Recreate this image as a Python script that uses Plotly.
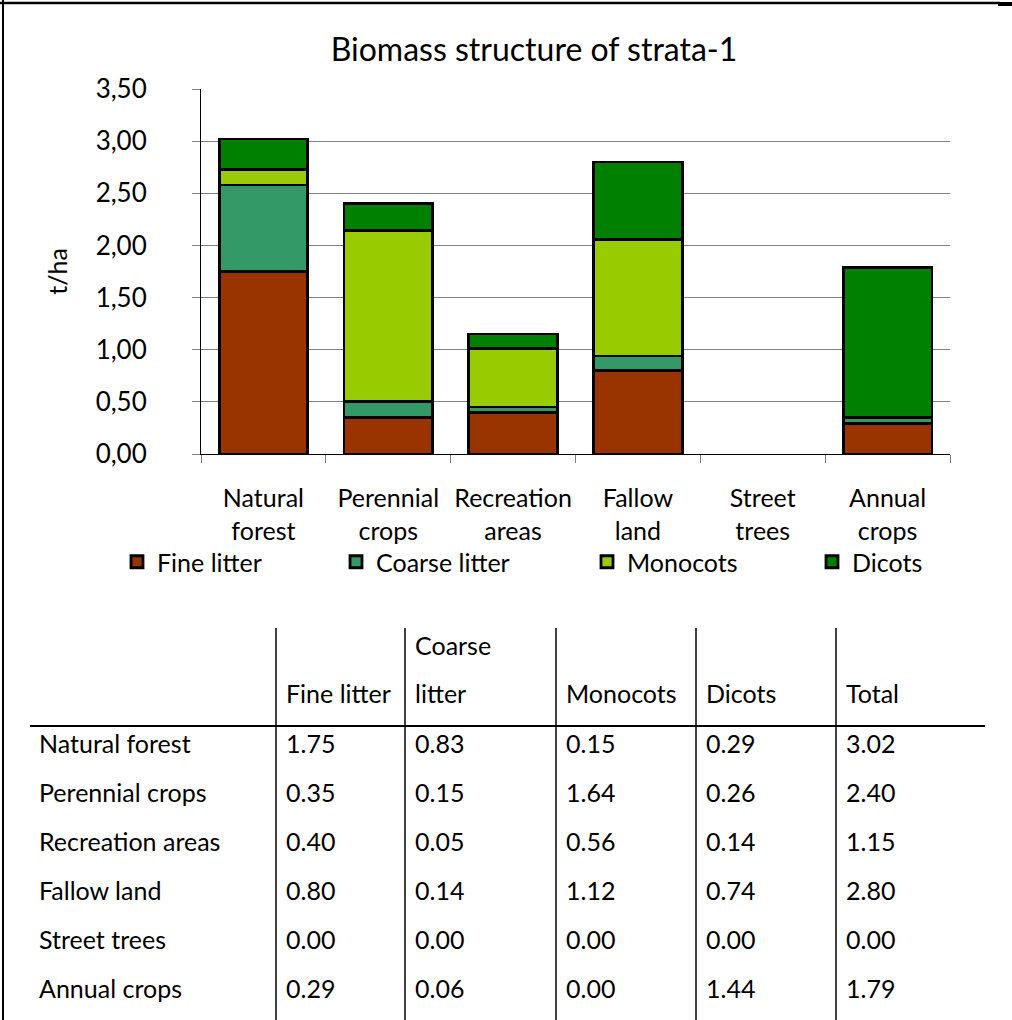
import plotly.graph_objects as go

# ---------------- data ----------------
categories = ["Natural forest", "Perennial crops", "Recreation areas",
              "Fallow land", "Street trees", "Annual crops"]
category_ticktext = ["Natural<br>forest", "Perennial<br>crops", "Recreation<br>areas",
                     "Fallow<br>land", "Street<br>trees", "Annual<br>crops"]
fine_litter = [1.75, 0.35, 0.40, 0.80, 0.00, 0.29]
coarse_litter = [0.83, 0.15, 0.05, 0.14, 0.00, 0.06]
monocots = [0.15, 1.64, 0.56, 1.12, 0.00, 0.00]
dicots = [0.29, 0.26, 0.14, 0.74, 0.00, 1.44]
totals = [3.02, 2.40, 1.15, 2.80, 0.00, 1.79]

series_names = ["Fine litter", "Coarse litter", "Monocots", "Dicots"]
series_values = [fine_litter, coarse_litter, monocots, dicots]
series_colors = ["#993300", "#339966", "#99CC00", "#008000"]
table_headers = [["Fine litter"], ["Coarse", "litter"], ["Monocots"], ["Dicots"], ["Total"]]

# ---------------- layout constants ----------------
W, H = 1012, 1020
FONT = "Lato"
def px(x):
    return x / W
def py(y):
    return 1 - y / H

fig = go.Figure()

legend_ids = ["legend", "legend2", "legend3", "legend4"]
legend_x = [117, 336, 587, 812]
for name, vals, col, lg in zip(series_names, series_values, series_colors, legend_ids):
    fig.add_trace(go.Bar(
        x=categories, y=vals, name=name,
        marker=dict(color=col,
                    line=dict(color="black", width=[2.8 if v > 0 else 0 for v in vals])),
        legend=lg, showlegend=True,
    ))

layout_legends = {}
for lg, lx in zip(legend_ids, legend_x):
    layout_legends[lg] = dict(
        x=px(lx), xanchor="left", y=py(562), yanchor="middle",
        orientation="h", bgcolor="rgba(0,0,0,0)",
        font=dict(family=FONT, size=25, color="black"),
        itemwidth=30, tracegroupgap=0, visible=True,
    )

shapes = []
# outer frame pieces
shapes.append(dict(type="line", xref="paper", yref="paper",
                   x0=px(3), x1=px(3), y0=py(0), y1=py(H), line=dict(color="black", width=2)))
shapes.append(dict(type="line", xref="paper", yref="paper",
                   x0=px(0), x1=px(1000), y0=py(3), y1=py(3), line=dict(color="black", width=2.5)))
shapes.append(dict(type="line", xref="paper", yref="paper",
                   x0=px(998), x1=px(1012), y0=py(4), y1=py(4), line=dict(color="black", width=4)))
# table lines
shapes.append(dict(type="line", xref="paper", yref="paper",
                   x0=px(30), x1=px(985), y0=py(726), y1=py(726), line=dict(color="black", width=2)))
col_lines = [276, 405, 556, 696, 836]
for cx in col_lines:
    shapes.append(dict(type="line", xref="paper", yref="paper",
                       x0=px(cx), x1=px(cx), y0=py(628), y1=py(H), line=dict(color="black", width=1.5)))

annotations = []
col_text_x = [c + 8 for c in col_lines]
TFONT = 25
header_line_y = [693, 645]  # bottom line first, line above
for hx, hlines in zip(col_text_x, table_headers):
    for k, htxt in enumerate(reversed(hlines)):
        annotations.append(dict(xref="paper", yref="paper", x=px(hx), y=py(header_line_y[k]),
                                xanchor="left", yanchor="middle", text=htxt, showarrow=False,
                                font=dict(family=FONT, size=TFONT, color="black")))
row_y = [743, 792, 841, 890, 939, 988]
for i, cat in enumerate(categories):
    annotations.append(dict(xref="paper", yref="paper", x=px(37), y=py(row_y[i]),
                            xanchor="left", yanchor="middle", text=cat, showarrow=False,
                            font=dict(family=FONT, size=TFONT, color="black")))
    row_vals = [fine_litter[i], coarse_litter[i], monocots[i], dicots[i], totals[i]]
    for hx, v in zip(col_text_x, row_vals):
        annotations.append(dict(xref="paper", yref="paper", x=px(hx), y=py(row_y[i]),
                                xanchor="left", yanchor="middle", text=f"{v:.2f}", showarrow=False,
                                font=dict(family=FONT, size=TFONT, color="black")))

fig.update_layout(
    width=W, height=H,
    margin=dict(l=0, r=0, t=0, b=0, autoexpand=False),
    paper_bgcolor="white", plot_bgcolor="white",
    separators=",.",
    showlegend=True,
    barmode="stack", bargap=0.29,
    font=dict(family=FONT, size=25, color="black"),
    title=dict(text="Biomass structure of strata-1", x=px(534), xanchor="center",
               y=py(50), yanchor="middle", font=dict(family=FONT, size=32, color="black")),
    xaxis=dict(domain=[px(201), px(950)], type="category", automargin=False,
               tickvals=categories, ticktext=category_ticktext, tickangle=0,
               showline=True, linecolor="black", linewidth=1,
               ticks="outside", tickson="boundaries", ticklen=8, tickcolor="#808080",
               ticklabelstandoff=22, tickfont=dict(family=FONT, size=25)),
    yaxis=dict(domain=[py(454), py(89)], range=[0, 3.5], dtick=0.5, tickformat=".2f",
               automargin=False,
               showgrid=True, gridcolor="#808080", gridwidth=1,
               showline=True, linecolor="black", linewidth=1,
               ticks="outside", ticklen=8, tickcolor="#808080",
               ticklabelstandoff=40,
               tickfont=dict(family=FONT, size=26),
               title=dict(text="t/ha", standoff=20, font=dict(family=FONT, size=25)),
               zeroline=False),
    shapes=shapes,
    annotations=annotations,
    **layout_legends,
)

fig.write_html("out.html", config={"displayModeBar": False},
               post_script="document.body.style.margin='0';")
